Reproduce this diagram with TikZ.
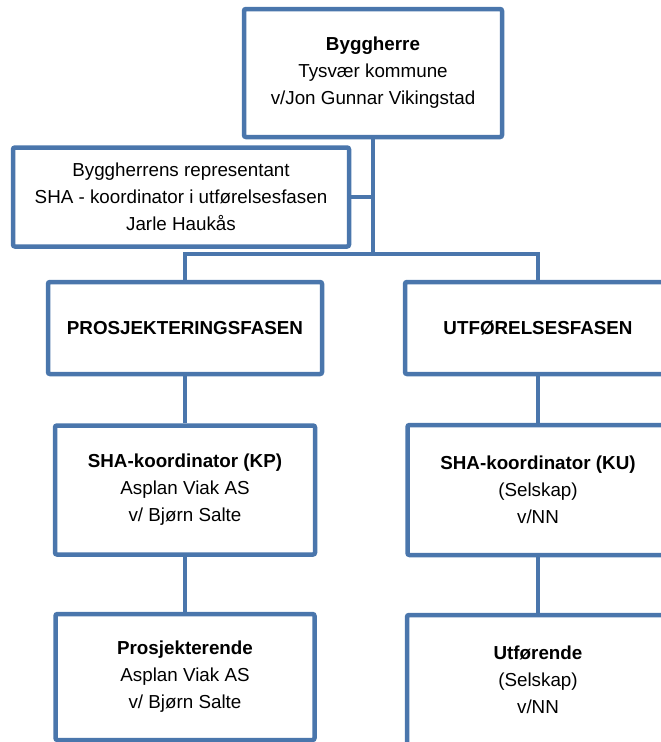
\documentclass[tikz,border=0pt]{standalone}
\usepackage{fontspec}
\setmainfont{Liberation Sans}
\usetikzlibrary{positioning, calc}
\definecolor{orgblue}{HTML}{4A76AC}

\begin{document}
\begin{tikzpicture}[x=1pt, y=-1pt,
  unit/.style={rectangle, rounded corners=2pt, draw=orgblue, line width=4.5pt, fill=white,
               align=center, font=\fontsize{18.8}{27}\selectfont, inner sep=2pt},
  link/.style={draw=orgblue, line width=4.5pt},
]
  \useasboundingbox (0,0) rectangle (661,742);
  \clip (0,0) rectangle (661,742);

  % top of the chart
  \node[unit, minimum width=258pt, minimum height=128pt] (herre) at (373,73)
    {\textbf{Byggherre}\\Tysvær kommune\\v/Jon Gunnar Vikingstad};
  \node[unit, minimum width=336pt, minimum height=99pt] (rep) at (181,197)
    {Byggherrens representant\\SHA - koordinator i utførelsesfasen\\Jarle Haukås};

  % the two phases
  \node[unit, minimum width=274pt, minimum height=92pt] (prosj) at (185,328)
    {\textbf{PROSJEKTERINGSFASEN}};
  \node[unit, minimum width=266pt, minimum height=92pt] (utf) at (538,328)
    {\textbf{UTFØRELSESFASEN}};

  \node[unit, minimum width=260pt, minimum height=129pt] (kp) at (185,490)
    {\textbf{SHA-koordinator (KP)}\\Asplan Viak AS\\v/ Bjørn Salte};
  \node[unit, minimum width=261pt, minimum height=130pt] (ku) at (538,490)
    {\textbf{SHA-koordinator (KU)}\\(Selskap)\\v/NN};

  \node[unit, minimum width=259pt, minimum height=126pt] (prosjekterende) at (185,677)
    {\textbf{Prosjekterende}\\Asplan Viak AS\\v/ Bjørn Salte};
  \node[unit, minimum width=262pt, minimum height=130pt] (utforende) at (538,680)
    {\textbf{Utførende}\\(Selskap)\\v/NN};

  % connectors
  \coordinate (bus) at (0,254);
  \draw[link] (herre.south) -- (herre.south |- bus);
  \draw[link] (rep.east) -- (rep.east -| herre.south);
  \draw[link] (prosj.north) -- (prosj.north |- bus) -- (utf.north |- bus) -- (utf.north);
  \draw[link] (prosj.south) -- (kp.north);
  \draw[link] (utf.south) -- (ku.north);
  \draw[link] (kp.south) -- (prosjekterende.north);
  \draw[link] (ku.south) -- (utforende.north);

\end{tikzpicture}
\end{document}
